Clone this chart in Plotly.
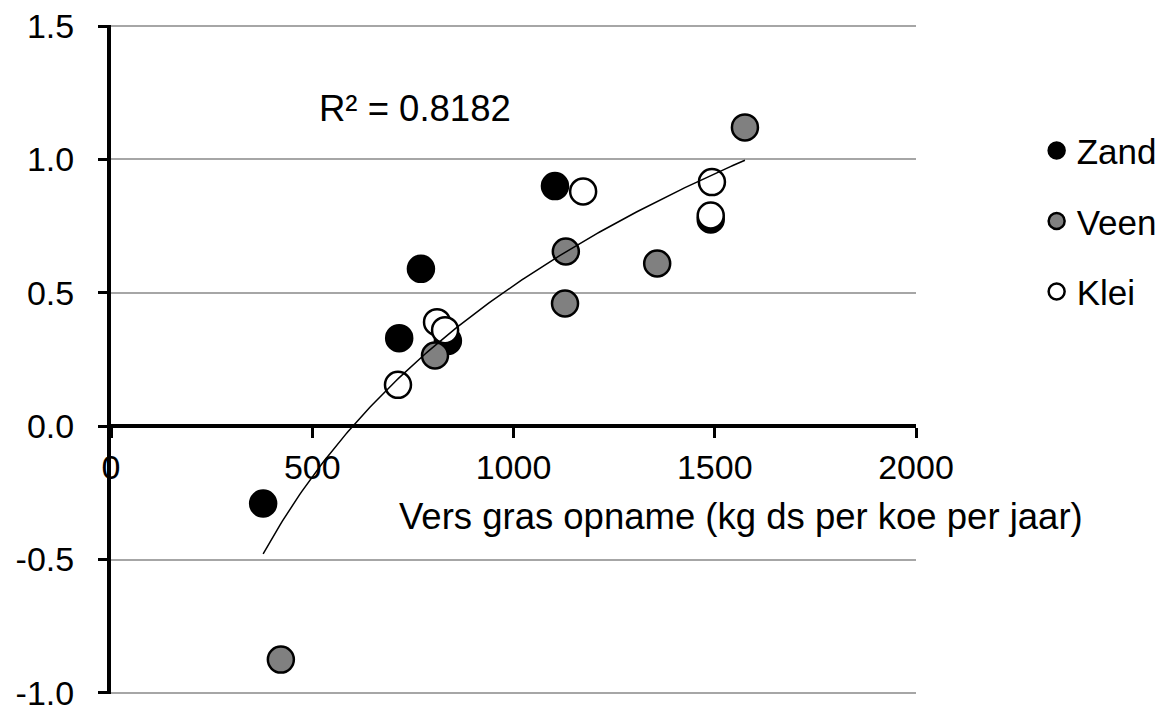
import numpy as np
import plotly.graph_objects as go

# ---- data ----
zand_x = [378, 716, 770, 837, 1103, 1490]
zand_y = [-0.29, 0.33, 0.59, 0.32, 0.90, 0.775]

veen_x = [422, 805, 1130, 1128, 1357, 1575]
veen_y = [-0.875, 0.265, 0.655, 0.46, 0.61, 1.12]

klei_x = [713, 810, 830, 1173, 1493, 1490]
klei_y = [0.155, 0.39, 0.36, 0.88, 0.915, 0.79]

x_ticks = [0, 500, 1000, 1500, 2000]
x_tick_labels = ["0", "500", "1000", "1500", "2000"]
y_ticks = [-1.0, -0.5, 0.0, 0.5, 1.0, 1.5]
y_tick_labels = ["-1.0", "-0.5", "0.0", "0.5", "1.0", "1.5"]

x_title = "Vers gras opname (kg ds per koe per jaar)"
r2_label = "R² = 0.8182"

# ---- logarithmic trendline fitted to all points ----
all_x = np.array(zand_x + veen_x + klei_x, dtype=float)
all_y = np.array(zand_y + veen_y + klei_y, dtype=float)
a, b = np.polyfit(np.log(all_x), all_y, 1)
tx = np.linspace(all_x.min(), all_x.max(), 200)
ty = a * np.log(tx) + b

FONT = "Liberation Sans, Arial, sans-serif"
FS_TICK = 34
FS_TEXT = 36.5
FS_LEG = 35

fig = go.Figure()

def add_series(name, xs, ys, fill, group):
    fig.add_trace(go.Scatter(
        x=xs, y=ys, mode="markers", name=name, legendgroup=group,
        marker=dict(size=26, color=fill, line=dict(color="black", width=2.5)),
    ))

add_series("Zand", zand_x, zand_y, "black", "g1")
add_series("Veen", veen_x, veen_y, "#808080", "g2")
add_series("Klei", klei_x, klei_y, "white", "g3")

fig.add_trace(go.Scatter(
    x=tx, y=ty, mode="lines", showlegend=False,
    line=dict(color="black", width=1.5),
))

# page body has an 8px margin, so the figure is 16px smaller than the window
fig.update_layout(
    width=1161, height=703,
    margin=dict(l=103, r=253, t=17, b=17, autoexpand=False),
    paper_bgcolor="white", plot_bgcolor="white",
    font=dict(family=FONT, size=FS_TICK, color="black"),
    legend=dict(
        xref="container", yref="container",
        x=0.886, xanchor="left", y=0.839, yanchor="top",
        font=dict(family=FONT, size=FS_LEG), tracegroupgap=22,
        bgcolor="rgba(0,0,0,0)", itemwidth=30,
    ),
    xaxis=dict(
        range=[0, 2000], anchor="free", position=0.4,
        tickvals=x_ticks, ticktext=x_tick_labels,
        showline=True, linecolor="black", linewidth=4,
        ticks="outside", ticklen=10, tickwidth=3, tickcolor="black",
        showgrid=False, zeroline=False, ticklabelstandoff=0,
        automargin=False, tickfont=dict(family=FONT, size=FS_TICK),
    ),
    yaxis=dict(
        range=[-1.004, 1.504], tickvals=y_ticks, ticktext=y_tick_labels,
        showline=True, linecolor="black", linewidth=4,
        ticks="outside", ticklen=9, tickwidth=3, tickcolor="black",
        showgrid=True, gridcolor="#a6a6a6", gridwidth=1.5,
        zeroline=False, ticklabelstandoff=17, ticklabeloverflow="allow",
        automargin=False, tickfont=dict(family=FONT, size=FS_TICK),
    ),
    annotations=[
        dict(text=x_title, xref="paper", yref="paper", x=0.783, y=0.266,
             showarrow=False, xanchor="center", yanchor="middle",
             font=dict(family=FONT, size=FS_TEXT)),
        dict(text=r2_label, xref="paper", yref="paper", x=0.378, y=0.8745,
             showarrow=False, xanchor="center", yanchor="middle",
             font=dict(family=FONT, size=FS_TEXT)),
    ],
)

fig.write_html("out.html")
